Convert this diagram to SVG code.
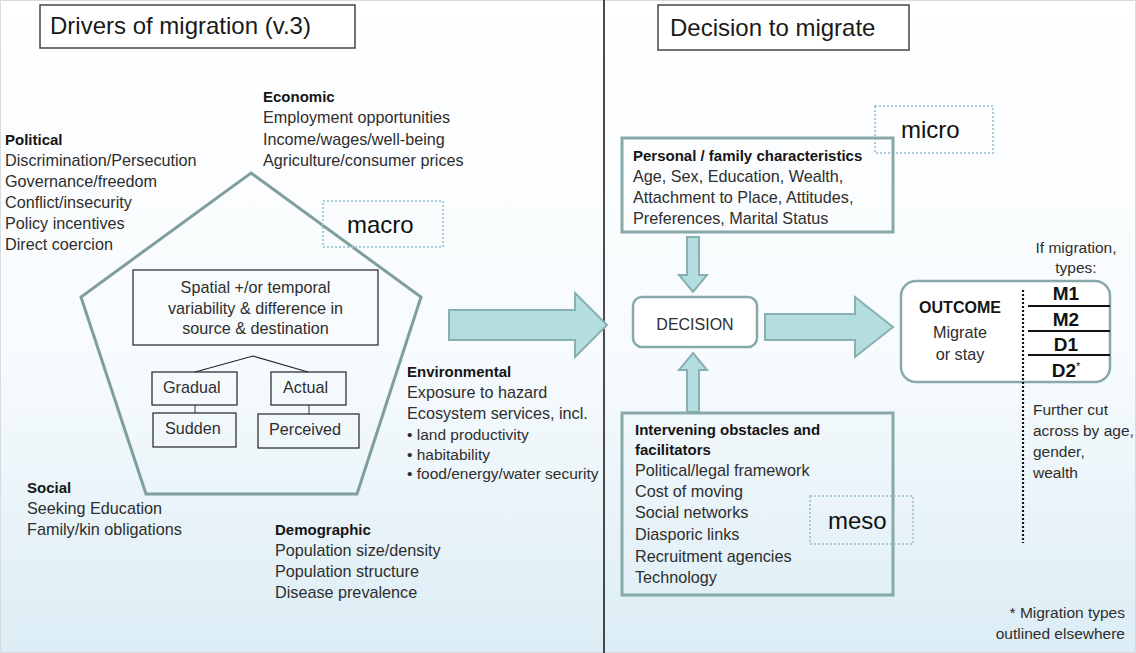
<svg xmlns="http://www.w3.org/2000/svg" width="1136" height="653" viewBox="0 0 1136 653">
<defs>
<linearGradient id="bg" x1="0" y1="0" x2="0" y2="1">
<stop offset="0" stop-color="#ffffff"/>
<stop offset="0.55" stop-color="#f7fbfd"/>
<stop offset="1" stop-color="#dcedf5"/>
</linearGradient>
<style>
text{font-family:"Liberation Sans",Arial,sans-serif;fill:#2e2e2e}
.t{font-size:16.2px}
.s{font-size:15.5px}
.b{font-size:15px;font-weight:bold;fill:#151515}
.bul{font-size:15.5px}
.title{font-size:24px;fill:#1a1a1a}
.lvl{font-size:24px;fill:#111}
.box{fill:none;stroke:#222;stroke-width:1.2}
.tbox{fill:#fff;stroke:#444;stroke-width:1.5}
.lvlbox{fill:none;stroke:#a7cdd8;stroke-width:2;stroke-dasharray:2 2}
.tealbox{fill:none;stroke:#88a9a9;stroke-width:3}
.arrow{fill:#b4dde0;stroke:#88b0b2;stroke-width:2}
.mid{text-anchor:middle}
.typ{font-size:19px;font-weight:bold;fill:#111;text-anchor:middle}
</style>
</defs>
<rect x="0" y="0" width="1136" height="653" fill="url(#bg)"/>
<rect x="0.5" y="0.5" width="1135" height="652" fill="none" stroke="#d8dcdf" stroke-width="1"/>
<line x1="604" y1="0" x2="604" y2="653" stroke="#111" stroke-width="1.5"/>

<g id="title-left">
<rect class="tbox" x="40" y="5" width="315" height="43"/>
<text class="title" x="50" y="34">Drivers of migration (v.3)</text>
</g>
<g id="title-right">
<rect class="tbox" x="658" y="5" width="251" height="45"/>
<text class="title" x="670" y="36">Decision to migrate</text>
</g>

<g id="pentagon">
<polygon points="251,173 421,297 357,494 146,494 81,297" fill="none" stroke="#7f9e9d" stroke-width="3"/>
</g>

<g id="political">
<text class="b" x="5" y="145">Political</text>
<text class="t" x="5" y="166">Discrimination/Persecution</text>
<text class="t" x="5" y="187">Governance/freedom</text>
<text class="t" x="5" y="208">Conflict/insecurity</text>
<text class="t" x="5" y="229">Policy incentives</text>
<text class="t" x="5" y="250">Direct coercion</text>
</g>

<g id="economic">
<text class="b" x="263" y="102">Economic</text>
<text class="t" x="263" y="123">Employment opportunities</text>
<text class="t" x="263" y="145">Income/wages/well-being</text>
<text class="t" x="263" y="166">Agriculture/consumer prices</text>
</g>

<g id="macro">
<rect class="lvlbox" x="323" y="201" width="120" height="46"/>
<text class="lvl" x="347" y="233">macro</text>
</g>

<g id="variability">
<rect class="box" x="133" y="270" width="245" height="75" fill="#fff"/>
<text class="t mid" x="255.5" y="293">Spatial +/or temporal</text>
<text class="t mid" x="255.5" y="314">variability &amp; difference in</text>
<text class="t mid" x="255.5" y="334">source &amp; destination</text>
</g>

<g id="connectors">
<polyline points="195,372 253,356 308,372" fill="none" stroke="#222" stroke-width="1.2"/>
<line x1="195" y1="405" x2="195" y2="413" stroke="#555" stroke-width="1.2"/>
<line x1="309" y1="405" x2="309" y2="414" stroke="#555" stroke-width="1.2"/>
<path class="arrow" d="M449,310 H575 V293 L607,325 L575,357 V340 H449 Z"/>
<path class="arrow" d="M687,237 H699 V275 H707 L693,292 L679,275 H687 Z"/>
<path class="arrow" d="M693,353 L707,370 H699 V412 H687 V370 H679 Z"/>
<path class="arrow" d="M765,314 H855 V297 L893,327 L855,357 V340 H765 Z"/>
</g>

<g id="gradual">
<rect class="box" x="152" y="372" width="85" height="33"/>
<text class="t" x="163" y="393">Gradual</text>
</g>
<g id="sudden">
<rect class="box" x="153" y="413" width="83" height="34"/>
<text class="t" x="165" y="434">Sudden</text>
</g>
<g id="actual">
<rect class="box" x="271" y="372" width="75" height="33"/>
<text class="t" x="283" y="393">Actual</text>
</g>
<g id="perceived">
<rect class="box" x="258" y="414" width="101" height="34"/>
<text class="t" x="269" y="435">Perceived</text>
</g>

<g id="environmental">
<text class="b" x="407" y="377">Environmental</text>
<text class="t" x="407" y="398">Exposure to hazard</text>
<text class="t" x="407" y="419">Ecosystem services, incl.</text>
<text class="bul" x="407" y="440">• land productivity</text>
<text class="bul" x="407" y="460">• habitability</text>
<text class="bul" x="407" y="479">• food/energy/water security</text>
</g>

<g id="social">
<text class="b" x="27" y="493">Social</text>
<text class="t" x="27" y="514">Seeking Education</text>
<text class="t" x="27" y="535">Family/kin obligations</text>
</g>

<g id="demographic">
<text class="b" x="275" y="535">Demographic</text>
<text class="t" x="275" y="556">Population size/density</text>
<text class="t" x="275" y="577">Population structure</text>
<text class="t" x="275" y="598">Disease prevalence</text>
</g>

<g id="micro">
<rect class="lvlbox" x="875" y="106" width="118" height="47"/>
<text class="lvl" x="901" y="138">micro</text>
</g>

<g id="personal">
<rect class="tealbox" x="622" y="138" width="271" height="94" fill="none"/>
<text class="b" x="633" y="161">Personal / family characteristics</text>
<text class="t" x="633" y="182">Age, Sex, Education, Wealth,</text>
<text class="t" x="633" y="203">Attachment to Place, Attitudes,</text>
<text class="t" x="633" y="224">Preferences, Marital Status</text>
</g>

<g id="decision">
<rect x="633" y="297" width="124" height="50" rx="9" fill="#fff" stroke="#88a9a9" stroke-width="2.5"/>
<text class="mid" x="695" y="330" style="font-size:16px">DECISION</text>
</g>

<g id="intervening">
<rect class="tealbox" x="622" y="413" width="271" height="182"/>
<text class="b" x="635" y="435">Intervening obstacles and</text>
<text class="b" x="635" y="455">facilitators</text>
<text class="t" x="635" y="476">Political/legal framework</text>
<text class="t" x="635" y="497">Cost of moving</text>
<text class="t" x="635" y="518">Social networks</text>
<text class="t" x="635" y="540">Diasporic links</text>
<text class="t" x="635" y="562">Recruitment agencies</text>
<text class="t" x="635" y="583">Technology</text>
</g>

<g id="meso">
<rect class="lvlbox" x="810" y="496" width="103" height="48"/>
<text class="lvl" x="828" y="529">meso</text>
</g>

<g id="outcome">
<rect x="901" y="281" width="209" height="101" rx="15" fill="#fff" stroke="#88a9a9" stroke-width="2.5"/>
<text class="b mid" x="960" y="313" style="font-size:16px">OUTCOME</text>
<text class="t mid" x="960" y="338">Migrate</text>
<text class="t mid" x="960" y="360">or stay</text>
<line x1="1023" y1="290" x2="1023" y2="543" stroke="#111" stroke-width="2.2" stroke-dasharray="2 2"/>
<line x1="1028" y1="306" x2="1110" y2="306" stroke="#111" stroke-width="2"/>
<line x1="1028" y1="331" x2="1110" y2="331" stroke="#111" stroke-width="2"/>
<line x1="1028" y1="355" x2="1110" y2="355" stroke="#111" stroke-width="2"/>
<text class="typ" x="1066" y="300">M1</text>
<text class="typ" x="1066" y="326">M2</text>
<text class="typ" x="1066" y="351">D1</text>
<text class="typ" x="1066" y="377">D2<tspan dy="-7" style="font-size:11px;font-weight:normal">*</tspan></text>
</g>

<g id="types-note">
<text class="s mid" x="1076" y="253">If migration,</text>
<text class="s mid" x="1076" y="273">types:</text>
</g>

<g id="further">
<text class="s" x="1033" y="415">Further cut</text>
<text class="s" x="1033" y="436">across by age,</text>
<text class="s" x="1033" y="457">gender,</text>
<text class="s" x="1033" y="478">wealth</text>
</g>

<g id="footnote">
<text class="s" x="1125" y="618" text-anchor="end">* Migration types</text>
<text class="s" x="1125" y="639" text-anchor="end">outlined elsewhere</text>
</g>
</svg>
